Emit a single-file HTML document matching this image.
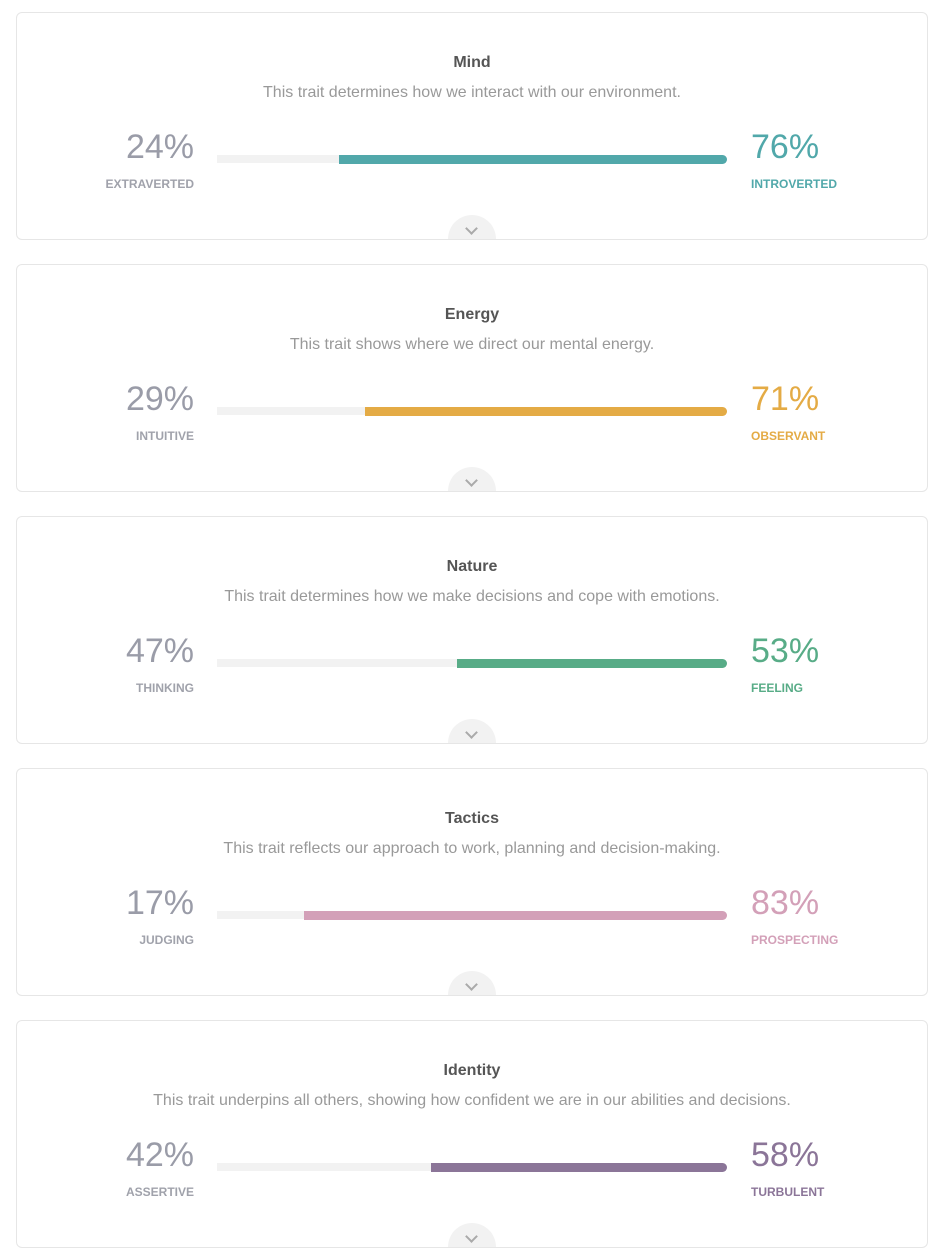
<!DOCTYPE html>
<html><head><style>
body{margin:0;background:#fff;font-family:"Liberation Sans",sans-serif;}
.card{position:absolute;left:16px;width:910px;height:226px;border:1px solid #e6e6e6;border-radius:6px;overflow:hidden;background:#fff}
.t{position:absolute;top:41px;width:100%;text-align:center;font-size:16px;font-weight:bold;color:#555}
.s{position:absolute;top:71px;width:100%;text-align:center;font-size:16px;color:#999}
.pl,.pr{position:absolute;top:114px;font-size:34px;line-height:40px}
.pl{right:733px;text-align:right;color:#9a9ca8}
.pr{left:734px}
.ll,.lr{position:absolute;top:164px;font-size:12px;font-weight:bold}
.ll{right:733px;color:#a0a2ab}
.lr{left:734px}
.bar{position:absolute;left:200px;top:142px;width:510px;height:8px;background:#f2f2f2;border-radius:0 5px 5px 0}
.fill{position:absolute;right:0;top:0;height:9px;border-radius:0 5px 5px 0}
.c{position:absolute;left:431px;top:202px;width:48px;height:48px;border-radius:50%;background:#f2f2f2}
.c:after{content:"";position:absolute;left:19px;top:9px;width:7px;height:7px;border-right:2px solid #aaa;border-bottom:2px solid #aaa;transform:rotate(45deg)}
</style></head><body>
<div class="card" style="top:12px"><div class="t">Mind</div><div class="s">This trait determines how we interact with our environment.</div>
<div class="pl">24%</div><div class="ll">EXTRAVERTED</div><div class="bar"><div class="fill" style="width:76%;background:#51a8aa"></div></div>
<div class="pr" style="color:#51a8aa">76%</div><div class="lr" style="color:#51a8aa">INTROVERTED</div><div class="c"></div></div>
<div class="card" style="top:264px"><div class="t">Energy</div><div class="s">This trait shows where we direct our mental energy.</div>
<div class="pl">29%</div><div class="ll">INTUITIVE</div><div class="bar"><div class="fill" style="width:71%;background:#e4ab45"></div></div>
<div class="pr" style="color:#e4ab45">71%</div><div class="lr" style="color:#e4ab45">OBSERVANT</div><div class="c"></div></div>
<div class="card" style="top:516px"><div class="t">Nature</div><div class="s">This trait determines how we make decisions and cope with emotions.</div>
<div class="pl">47%</div><div class="ll">THINKING</div><div class="bar"><div class="fill" style="width:53%;background:#58ac87"></div></div>
<div class="pr" style="color:#58ac87">53%</div><div class="lr" style="color:#58ac87">FEELING</div><div class="c"></div></div>
<div class="card" style="top:768px"><div class="t">Tactics</div><div class="s">This trait reflects our approach to work, planning and decision-making.</div>
<div class="pl">17%</div><div class="ll">JUDGING</div><div class="bar"><div class="fill" style="width:83%;background:#d3a0b8"></div></div>
<div class="pr" style="color:#d3a0b8">83%</div><div class="lr" style="color:#d3a0b8">PROSPECTING</div><div class="c"></div></div>
<div class="card" style="top:1020px"><div class="t">Identity</div><div class="s">This trait underpins all others, showing how confident we are in our abilities and decisions.</div>
<div class="pl">42%</div><div class="ll">ASSERTIVE</div><div class="bar"><div class="fill" style="width:58%;background:#8b7598"></div></div>
<div class="pr" style="color:#8b7598">58%</div><div class="lr" style="color:#8b7598">TURBULENT</div><div class="c"></div></div>
</body></html>
